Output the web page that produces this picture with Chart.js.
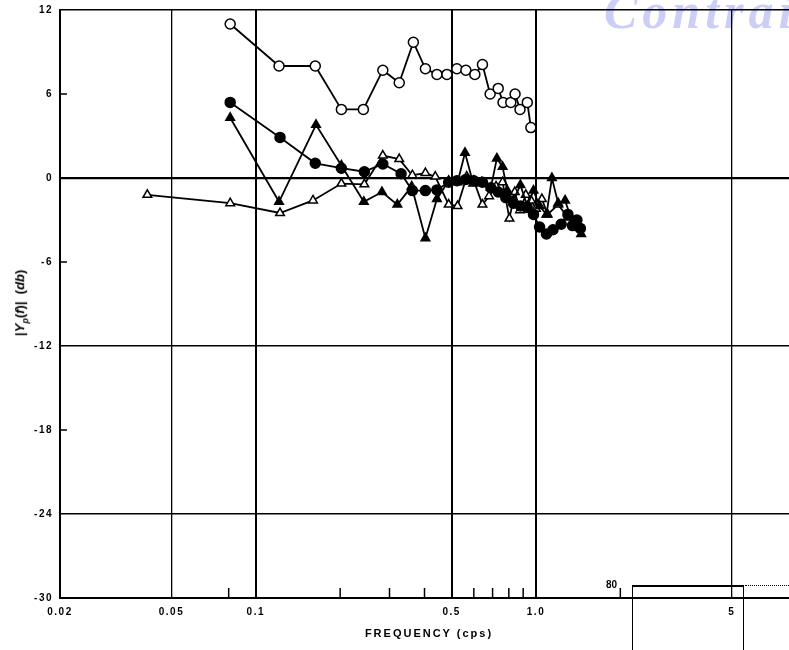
<!DOCTYPE html>
<html lang="en">
<head>
<meta charset="UTF-8">
<title>|Yp(f)| vs frequency</title>
<style>
    body { margin: 0; background: #fff; }
    #wrap { position: relative; width: 789px; height: 650px; overflow: hidden; font-family: "Liberation Sans", Arial, sans-serif; }
    #box { position: absolute; left: 0; top: 0; width: 789px; height: 650px; z-index: 2; }
    #stamp { position: absolute; left: 604px; top: -18px; z-index: 1; font: italic bold 50px "Liberation Serif", serif; letter-spacing: 5px; color: rgba(160, 165, 240, 0.55); }
    #ytitle { position: absolute; left: -54px; top: 294px; width: 150px; text-align: center; transform: rotate(-90deg); font-size: 13px; font-weight: bold; z-index: 3; }
    #ytitle sub { font-size: 9px; }
    #xtitle { position: absolute; left: 329px; top: 627px; width: 200px; text-align: center; font-size: 11px; font-weight: bold; letter-spacing: 2px; z-index: 3; }
    #next80 { position: absolute; left: 606px; top: 579px; font-size: 10px; font-weight: bold; z-index: 3; }
    #nextBox { position: absolute; left: 632px; top: 585px; width: 110px; height: 80px; border-top: 2px solid #000; border-left: 1.5px solid #000; border-right: 1.5px solid #000; z-index: 3; }
    #nextDots { position: absolute; left: 745px; top: 585px; width: 44px; border-top: 1px dotted #000; z-index: 3; }
</style>
</head>
<body>
<div id="wrap">
    <div id="stamp">Contrail</div>
    <div id="box"><canvas id="myChart"></canvas></div>
    <div id="ytitle">|<i>Y</i><sub><i>p</i></sub>(<i>f</i>)|&nbsp;&nbsp;(<i>db</i>)</div>
    <div id="xtitle">FREQUENCY (cps)</div>
    <div id="next80">80</div>
    <div id="nextBox"></div>
    <div id="nextDots"></div>
</div>

<script src="https://cdn.jsdelivr.net/npm/chart.js"></script>
<script>
    // open circles
    const ocFreq = [0.081, 0.121, 0.163, 0.202, 0.242, 0.284, 0.325, 0.365, 0.403, 0.443, 0.481, 0.522, 0.562, 0.605, 0.644, 0.686, 0.733, 0.763, 0.813, 0.842, 0.877, 0.931, 0.959];
    const ocDb   = [11.0, 8.0, 8.0, 4.9, 4.9, 7.7, 6.8, 9.7, 7.8, 7.4, 7.4, 7.8, 7.7, 7.4, 8.1, 6.0, 6.4, 5.4, 5.4, 6.0, 4.9, 5.4, 3.6];

    // filled circles
    const fcFreq = [0.081, 0.122, 0.163, 0.202, 0.244, 0.284, 0.330, 0.362, 0.403, 0.443, 0.488, 0.522, 0.562, 0.600, 0.644, 0.690, 0.733, 0.780, 0.830, 0.880, 0.930, 0.980, 1.03, 1.09, 1.15, 1.23, 1.30, 1.35, 1.40, 1.44];
    const fcDb   = [5.4, 2.9, 1.05, 0.7, 0.45, 1.0, 0.3, -0.9, -0.9, -0.85, -0.3, -0.2, -0.1, -0.2, -0.3, -0.7, -1.0, -1.4, -1.8, -2.0, -2.1, -2.6, -3.5, -4.0, -3.7, -3.3, -2.6, -3.4, -3.0, -3.6];

    // filled triangles
    const ftFreq = [0.081, 0.121, 0.164, 0.202, 0.243, 0.282, 0.320, 0.360, 0.403, 0.443, 0.488, 0.525, 0.558, 0.597, 0.640, 0.690, 0.725, 0.760, 0.790, 0.830, 0.880, 0.930, 0.980, 1.03, 1.09, 1.14, 1.20, 1.27, 1.33, 1.39, 1.45];
    const ftDb   = [4.3, -1.7, 3.8, 0.9, -1.7, -1.0, -1.9, -0.6, -4.3, -1.5, -0.2, -0.3, 1.8, -0.4, -0.3, -0.7, 1.4, 0.8, -0.9, -1.6, -0.5, -2.0, -0.9, -2.0, -2.6, 0.0, -1.8, -1.6, -2.8, -3.5, -4.0];

    // open triangles
    const otFreq = [0.041, 0.081, 0.122, 0.160, 0.202, 0.244, 0.284, 0.325, 0.362, 0.403, 0.437, 0.488, 0.525, 0.566, 0.600, 0.644, 0.680, 0.720, 0.760, 0.804, 0.840, 0.877, 0.920, 0.960, 1.00, 1.05, 1.10, 1.20, 1.30, 1.40];
    const otDb   = [-1.2, -1.8, -2.5, -1.6, -0.4, -0.45, 1.6, 1.35, 0.2, 0.35, 0.1, -1.9, -2.0, 0.1, -0.2, -1.9, -1.3, -0.6, -0.3, -2.9, -1.0, -2.3, -1.2, -1.6, -2.2, -1.5, -2.6, -1.9, -2.8, -3.2];

    // axis ticks
    const xLabelValues = [0.02, 0.05, 0.1, 0.5, 1, 5];
    const xLabelText   = ['0.02', '0.05', '0.1', '0.5', '1.0', '5'];
    const xThickGrid   = [0.1, 0.5, 1];
    const xMinorTicks  = [0.08, 0.2, 0.3, 0.4, 0.6, 0.7, 0.8, 0.9, 2];
    const yGridValues  = [12, 0, -12, -24];
    const yShortTicks  = [6, -6, -18];

    function f_points(p_x, p_y) {
        return p_x.map((v, i) => ({ x: v, y: p_y[i] }));
    }

    function f_series(p_x, p_y, p_style, p_fill, p_radius) {
        return {
            data: f_points(p_x, p_y),
            showLine: true,
            borderColor: '#000',
            borderWidth: 1.8,
            pointStyle: p_style,
            pointRadius: p_radius,
            pointBackgroundColor: p_fill,
            pointBorderColor: '#000',
            pointBorderWidth: 1.5
        };
    }

    // short tick marks inside the plot
    const tickMarks = {
        id: 'tickMarks',
        beforeDatasetsDraw(chart) {
            const { ctx, chartArea, scales: { x, y } } = chart;
            ctx.save();
            ctx.strokeStyle = '#000';
            ctx.lineWidth = 1.5;
            ctx.beginPath();
            xMinorTicks.forEach(v => {
                const px = x.getPixelForValue(v);
                ctx.moveTo(px, chartArea.bottom);
                ctx.lineTo(px, chartArea.bottom - 10);
            });
            yShortTicks.forEach(v => {
                const py = y.getPixelForValue(v);
                ctx.moveTo(chartArea.left, py);
                ctx.lineTo(chartArea.left + 7, py);
            });
            ctx.stroke();
            ctx.restore();
        },
        beforeDraw(chart) {
            chart.ctx.letterSpacing = '1.5px';
        }
    };

    Chart.defaults.font.family = '"Liberation Sans", Arial, sans-serif';
    Chart.defaults.font.weight = 'bold';
    Chart.defaults.font.size = 10;
    Chart.defaults.color = '#000';

    const ctx = document.getElementById('myChart');

    let chart = new Chart(ctx, {
        type: 'scatter',
        data: {
            datasets: [
                f_series(ocFreq, ocDb, 'circle', '#fff', 5),
                f_series(fcFreq, fcDb, 'circle', '#000', 5),
                f_series(ftFreq, ftDb, 'triangle', '#000', 5),
                f_series(otFreq, otDb, 'triangle', '#fff', 5)
            ]
        },
        options: {
            responsive: true,
            maintainAspectRatio: false,
            animation: false,
            layout: { autoPadding: false, padding: { top: 10, right: 0, left: 0, bottom: 0 } },
            plugins: {
                legend: { display: false },
                tooltip: { enabled: false }
            },
            scales: {
                x: {
                    type: 'logarithmic',
                    min: 0.02,
                    max: 8,
                    afterBuildTicks: scale => {
                        scale.ticks = xLabelValues.map(v => ({ value: v }));
                    },
                    afterFit: scale => {
                        scale.height = 52;
                        scale.paddingLeft = 0;
                        scale.paddingRight = 0;
                    },
                    ticks: {
                        autoSkip: false,
                        maxRotation: 0,
                        padding: 8,
                        font: { size: 10, weight: 'bold' },
                        callback: value => {
                            const i = xLabelValues.indexOf(value);
                            return i >= 0 ? xLabelText[i] : '';
                        }
                    },
                    grid: {
                        drawTicks: false,
                        color: c => (c.tick && c.tick.value === 0.02) ? 'rgba(0,0,0,0)' : '#000',
                        lineWidth: c => (c.tick && xThickGrid.includes(c.tick.value)) ? 2 : 1.3
                    },
                    border: { color: '#000', width: 2 }
                },
                y: {
                    min: -30,
                    max: 12,
                    afterFit: scale => {
                        scale.width = 60;
                        scale.paddingTop = 0;
                        scale.paddingBottom = 0;
                    },
                    ticks: {
                        stepSize: 6,
                        padding: 7,
                        font: { size: 10, weight: 'bold' }
                    },
                    grid: {
                        drawTicks: false,
                        color: c => (c.tick && yGridValues.includes(c.tick.value)) ? '#000' : 'rgba(0,0,0,0)',
                        lineWidth: c => (c.tick && c.tick.value === 0) ? 2.2 : 1.6
                    },
                    border: { color: '#000', width: 2 }
                }
            }
        },
        plugins: [tickMarks]
    });
</script>
</body>
</html>
